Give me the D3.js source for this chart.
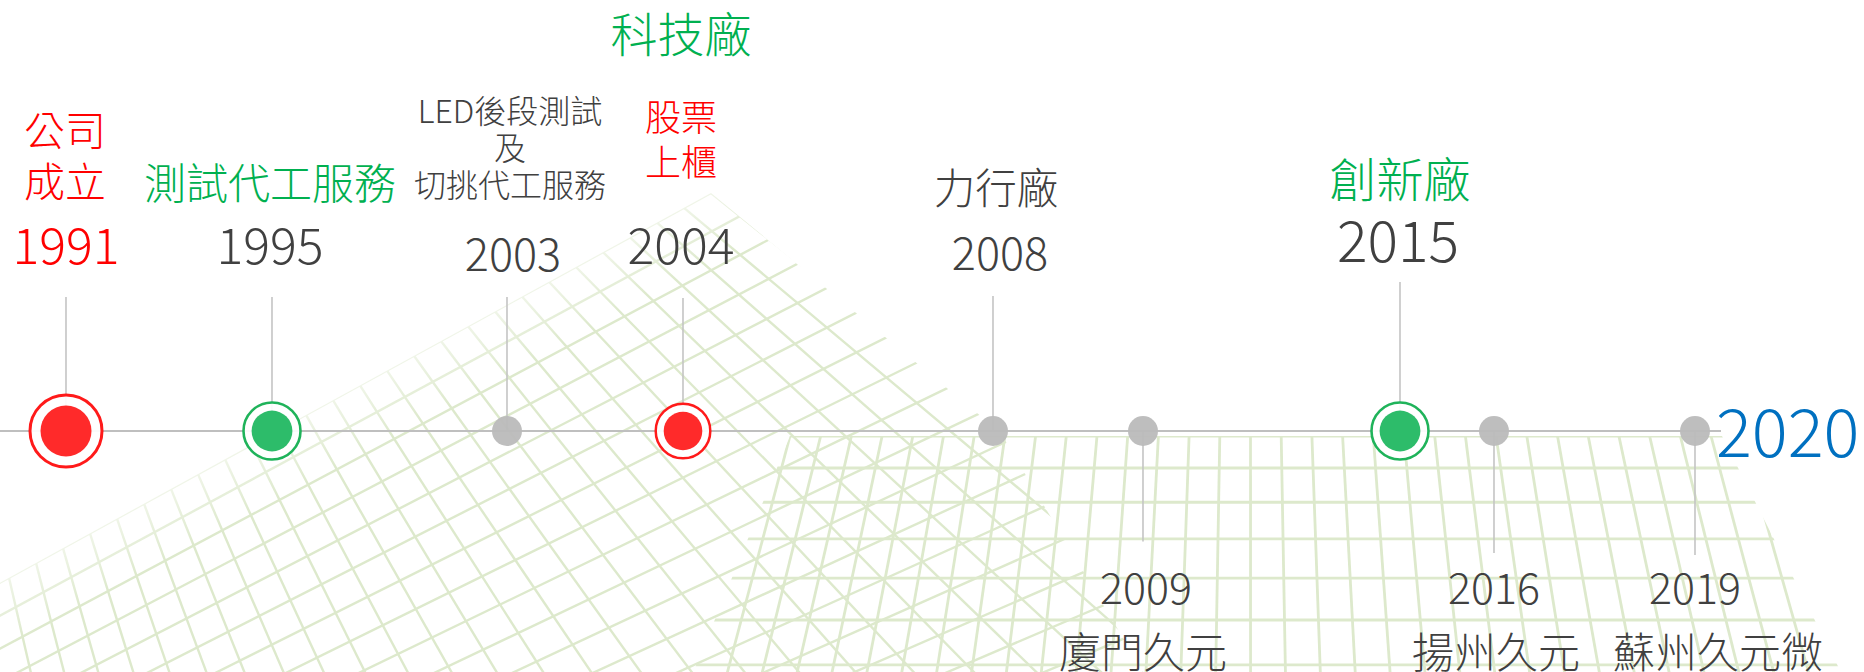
<!DOCTYPE html>
<html>
<head>
<meta charset="utf-8">
<script src="https://cdn.jsdelivr.net/npm/d3@7"></script>
<style>
  html, body { margin: 0; padding: 0; background: #fff; overflow: hidden; }
  svg { display: block; }
  text { font-family: "Noto Sans CJK TC", "Noto Sans CJK SC", sans-serif; font-weight: 300; }
</style>
</head>
<body>
<div id="chart"></div>
<script>
// ---- data ----
const years = [1991, 1995, 2003, 2004, 2008, 2009, 2015, 2016, 2019];
const endYear = 2020;
const sides = ["top", "top", "top", "top", "top", "bottom", "top", "bottom", "bottom"];
const tiers = ["founding", "milestone", "event", "listing", "event", "event", "milestone", "event", "event"];
const captions = [
  ["公司", "成立"],
  ["測試代工服務"],
  ["LED後段測試", "及", "切挑代工服務"],
  ["股票", "上櫃"],
  ["力行廠"],
  ["廈門久元"],
  ["創新廠"],
  ["揚州久元"],
  ["蘇州久元微"]
];
const captionTones = ["company", "business", "other", "company", "other", "other", "business", "other", "other"];
const yearTones = ["company", "other", "other", "other", "other", "other", "other", "other", "other"];
const headlines = [null, null, null, "科技廠", null, null, null, null, null];
const headlineTones = [null, null, null, "business", null, null, null, null, null];

// ---- layout ----
const width = 1864, height = 672;
const axisY = 431;

const tone = {company: "#ff0000", business: "#00b050", other: "#404040", end: "#0070c0"};

// events are not evenly spaced in time, so the scale is piecewise
const x = d3.scaleLinear()
  .domain([...years, endYear])
  .range([66, 272, 507, 683, 993, 1143, 1400, 1494, 1695, 1721]);

const markerStyle = {
  founding:  {ring: 36,   sw: 3,   dot: 25.5, color: "#ff1f1f", ringColor: "#ff1a1a"},
  listing:   {ring: 27.3, sw: 2.5, dot: 19.3, color: "#ff1f1f", ringColor: "#ff1a1a"},
  milestone: {ring: 28.5, sw: 2.6, dot: 20.4, color: "#22b862", ringColor: "#1fb35a"},
  event:     {ring: 0,    sw: 0,   dot: 15,   color: "#bababa", ringColor: "none"}
};

// text positions per event (baselines), font sizes, small horizontal nudges
const layout = {
  1991: {stem: 297, yearY: 263.5, yearSize: 50, capY: [145.5, 197], capSize: 41, dx: -1, ydx: 0},
  1995: {stem: 297, yearY: 263.5, yearSize: 50, capY: [198.5], capSize: 42, dx: -2, ydx: -2},
  2003: {stem: 297, yearY: 270.7, yearSize: 45, capY: [122.5, 159.5, 197], capSize: 32, dx: 3, ydx: 6},
  2004: {stem: 298, yearY: 264, yearSize: 50, capY: [131, 176], capSize: 36, dx: -2, ydx: -2, headY: 51.7, headSize: 47},
  2008: {stem: 296, yearY: 270, yearSize: 45, capY: [204], capSize: 41.5, dx: 3, ydx: 7},
  2009: {stem: 541.5, yearY: 604, yearSize: 43, capY: [668], capSize: 42, dx: 0, ydx: 3},
  2015: {stem: 282, yearY: 261.7, yearSize: 57, capY: [196.7], capSize: 47, dx: 0, ydx: -2},
  2016: {stem: 553, yearY: 604, yearSize: 43, capY: [668], capSize: 42, dx: 2, ydx: 0},
  2019: {stem: 555, yearY: 604, yearSize: 43, capY: [668], capSize: 42, dx: 23, ydx: 0}
};

const events = years.map((year, i) => ({
  year,
  side: sides[i],
  tier: tiers[i],
  caption: captions[i],
  captionTone: captionTones[i],
  yearTone: yearTones[i],
  headline: headlines[i],
  headlineTone: headlineTones[i],
  ...layout[year]
}));

const svg = d3.select("#chart")
  .append("svg")
  .attr("width", width)
  .attr("height", height);

// ==== background: pale perspective grid ====
const gridColor = "#dde9cc";
const defs = svg.append("defs");
const bg = svg.append("g");

// tilted plane on the left, peaked near 2004
const apex = [711, 193];
const edgeSlope = -0.548;
const vpB = [-258, -582];
const planePoly = [apex, [1000, 432], [1160, 700], [-30, 700], [-30, apex[1] - edgeSlope * (apex[0] + 30)]];
defs.append("clipPath").attr("id", "plane-clip")
  .append("path").attr("d", d3.line()(planePoly) + "Z");

// soft fade along the upper-left edge of the plane
const edgePt = [300, apex[1] + edgeSlope * (300 - apex[0])];
const fade = defs.append("linearGradient")
  .attr("id", "edge-fade")
  .attr("gradientUnits", "userSpaceOnUse")
  .attr("x1", edgePt[0]).attr("y1", edgePt[1])
  .attr("x2", edgePt[0] + 0.481 * 60).attr("y2", edgePt[1] + 0.877 * 60);
fade.append("stop").attr("offset", 0).attr("stop-color", "#fff").attr("stop-opacity", 0.45);
fade.append("stop").attr("offset", 1).attr("stop-color", "#fff").attr("stop-opacity", 1);
defs.append("mask").attr("id", "plane-mask")
  .attr("maskUnits", "userSpaceOnUse")
  .attr("x", 0).attr("y", 0).attr("width", width).attr("height", height)
  .append("rect")
  .attr("width", width).attr("height", height)
  .attr("fill", "url(#edge-fade)");

const plane = bg.append("g")
  .attr("clip-path", "url(#plane-clip)")
  .attr("mask", "url(#plane-mask)")
  .attr("stroke", gridColor)
  .attr("stroke-width", 2.4)
  .attr("fill", "none");

const edgeY0 = apex[1] - edgeSlope * apex[0];
const famA = d3.range(0, 32).map(k => {
  const b = edgeY0 + 33 * k, s = edgeSlope + 0.008 * k;
  return [[-40, b - 40 * s], [1400, b + 1400 * s]];
});
const famB = d3.range(0, 29).map(j => {
  const ex = apex[0] - 27 * j, ey = apex[1] + edgeSlope * (ex - apex[0]);
  const t = (720 - vpB[1]) / (ey - vpB[1]);
  return [[ex, ey], [vpB[0] + t * (ex - vpB[0]), 720]];
});
plane.selectAll("path")
  .data(famA.concat(famB))
  .join("path")
  .attr("d", d => d3.line()(d));

// floor plane on the right
const floorTop = 436;
const floorPoly = [[790, floorTop], [1722, floorTop], [1850, 690], [686, 690]];
defs.append("clipPath").attr("id", "floor-clip")
  .append("path").attr("d", d3.line()(floorPoly) + "Z");

const floor = bg.append("g")
  .attr("clip-path", "url(#floor-clip)")
  .attr("stroke", gridColor)
  .attr("stroke-width", 2.8)
  .attr("fill", "none");

const rowYs = [floorTop];
for (let k = 0; k < 8; k++) rowYs.push(rowYs[k] + 32 * Math.pow(1.07, k));
const vpF = [1250, -1300];
const colXs = d3.range(790, 1760, 30.7);
floor.selectAll(".row")
  .data(rowYs)
  .join("line")
  .attr("class", "row")
  .attr("x1", 600).attr("x2", 1864)
  .attr("y1", d => d).attr("y2", d => d);
floor.selectAll(".col")
  .data(colXs)
  .join("line")
  .attr("class", "col")
  .attr("x1", d => d).attr("y1", floorTop)
  .attr("x2", d => vpF[0] + (700 - vpF[1]) / (floorTop - vpF[1]) * (d - vpF[0]))
  .attr("y2", 700);

// ==== timeline ====
svg.append("line")
  .attr("x1", 0).attr("x2", x(endYear))
  .attr("y1", axisY).attr("y2", axisY)
  .attr("stroke", "#bfbfbf")
  .attr("stroke-width", 2);

// stems
svg.selectAll(".stem")
  .data(events)
  .join("line")
  .attr("class", "stem")
  .attr("x1", d => x(d.year)).attr("x2", d => x(d.year))
  .attr("y1", d => d.stem)
  .attr("y2", axisY)
  .attr("stroke", "#c4c4c4")
  .attr("stroke-width", 1.6);

// markers
const marks = svg.selectAll(".mark")
  .data(events)
  .join("g")
  .attr("class", "mark")
  .attr("transform", d => `translate(${x(d.year)},${axisY})`);

marks.filter(d => markerStyle[d.tier].ring > 0)
  .append("circle")
  .attr("r", d => markerStyle[d.tier].ring)
  .attr("fill", "#fff")
  .attr("fill-opacity", 0.92)
  .attr("stroke", d => markerStyle[d.tier].ringColor)
  .attr("stroke-width", d => markerStyle[d.tier].sw);

marks.append("circle")
  .attr("r", d => markerStyle[d.tier].dot)
  .attr("fill", d => markerStyle[d.tier].color)
  .attr("fill-opacity", 0.95);

// year labels
svg.selectAll(".year")
  .data(events)
  .join("text")
  .attr("class", "year")
  .attr("x", d => x(d.year) + d.ydx)
  .attr("y", d => d.yearY)
  .attr("text-anchor", "middle")
  .attr("font-size", d => d.yearSize)
  .attr("fill", d => tone[d.yearTone])
  .text(d => d.year);

// captions
svg.selectAll(".caption")
  .data(events)
  .join("text")
  .attr("class", "caption")
  .attr("text-anchor", "middle")
  .attr("font-size", d => d.capSize)
  .attr("fill", d => tone[d.captionTone])
  .selectAll("tspan")
  .data(d => d.caption.map((t, i) => ({t, x: x(d.year) + d.dx, y: d.capY[i]})))
  .join("tspan")
  .attr("x", d => d.x)
  .attr("y", d => d.y)
  .text(d => d.t);

// headline above 2004
svg.selectAll(".headline")
  .data(events.filter(d => d.headline))
  .join("text")
  .attr("class", "headline")
  .attr("x", d => x(d.year) + d.dx)
  .attr("y", d => d.headY)
  .attr("text-anchor", "middle")
  .attr("font-size", d => d.headSize)
  .attr("fill", d => tone[d.headlineTone])
  .text(d => d.headline);

// end of timeline
svg.append("text")
  .attr("x", x(endYear) - 5)
  .attr("y", 457)
  .attr("font-size", 67)
  .attr("fill", tone.end)
  .text(endYear);
</script>
</body>
</html>
